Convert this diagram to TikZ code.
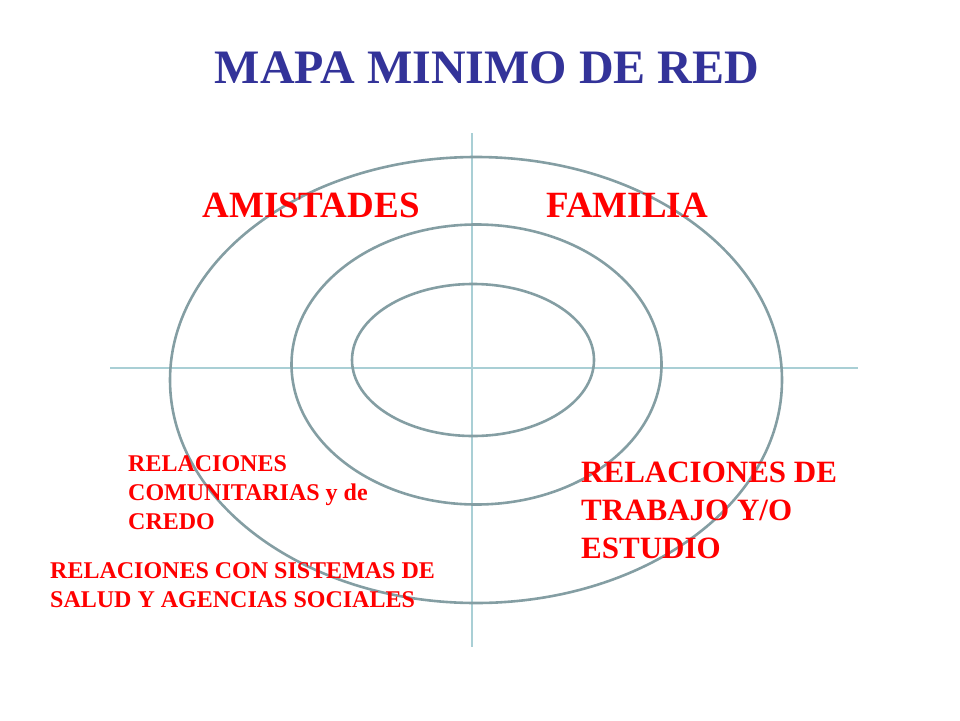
\documentclass[tikz,border=0pt]{standalone}
\usepackage{fontspec}
\setmainfont{Liberation Serif}
\usepackage{tikz}

\definecolor{titleblue}{HTML}{333399}
\definecolor{labelred}{HTML}{FF0000}
\definecolor{ringgray}{HTML}{849EA3}
\definecolor{axisblue}{HTML}{A9CFD5}

\begin{document}
\begin{tikzpicture}[x=1pt,y=-1pt,
    ring/.style={draw=ringgray,line width=2.6pt},
    axis/.style={draw=axisblue,line width=2.4pt},
    zone/.style={color=labelred,inner sep=0pt,
      font=\fontsize{37}{37}\selectfont\bfseries},
    big/.style={zone,anchor=north west,align=left,
      font=\fontsize{31}{38}\selectfont\bfseries},
    small/.style={zone,anchor=north west,align=left,
      font=\fontsize{24}{29}\selectfont\bfseries}]
  \useasboundingbox (0,0) rectangle (960,720);

  \node[color=titleblue,inner sep=0pt,
    font=\fontsize{48}{48}\selectfont\bfseries] (titulo) at (487,68)
    {MAPA MINIMO DE RED};

  % ejes
  \coordinate (arriba) at (472,133);
  \coordinate (abajo) at (472,647);
  \coordinate (izq) at (110,368);
  \coordinate (der) at (858,368);
  \draw[axis] (arriba) -- (abajo);
  \draw[axis] (izq) -- (der);

  % circulos de la red
  \draw[ring] (476,380) ellipse [x radius=306pt, y radius=223pt];
  \draw[ring] (476.5,364.5) ellipse [x radius=185pt, y radius=140pt];
  \draw[ring] (473,360) ellipse [x radius=121pt, y radius=76pt];

  \node[zone] (amistades) at (311,205) {AMISTADES};
  \node[zone] (familia) at (627,205) {FAMILIA};

  \node[big] (trabajo) at (581,462)
    {RELACIONES DE\\ TRABAJO Y/O\\ ESTUDIO};
  \node[small] (comunidad) at (128,455)
    {RELACIONES\\ COMUNITARIAS y de\\ CREDO};
  \node[small] (salud) at (50,562)
    {RELACIONES CON SISTEMAS DE\\ SALUD Y AGENCIAS SOCIALES};
\end{tikzpicture}
\end{document}
